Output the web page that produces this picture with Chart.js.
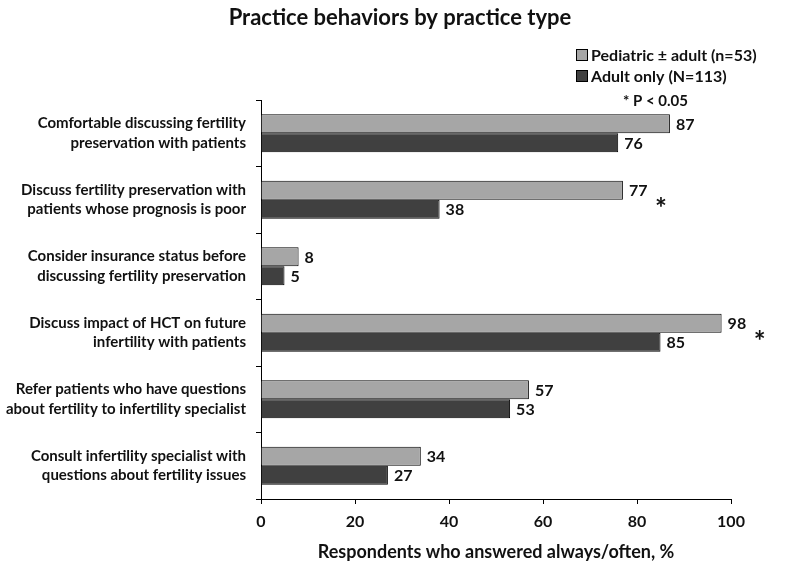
<!DOCTYPE html>
<html>
<head>
<meta charset="utf-8">
<script src="https://cdn.jsdelivr.net/npm/chart.js@4/dist/chart.umd.min.js"></script>
<style>
  html, body { margin: 0; padding: 0; background: #fff; }
  #wrap { width: 800px; height: 567px; }
</style>
</head>
<body>
<div id="wrap"><canvas id="myChart"></canvas></div>
<script>
var categories = [
  ['Comfortable discussing fertility', 'preservation with patients'],
  ['Discuss fertility preservation with', 'patients whose prognosis is poor'],
  ['Consider insurance status before', 'discussing fertility preservation'],
  ['Discuss impact of HCT on future', 'infertility with patients'],
  ['Refer patients who have questions', 'about fertility to infertility specialist'],
  ['Consult infertility specialist with', 'questions about fertility issues']
];
var pediatric = [87, 77, 8, 98, 57, 34];
var adultOnly = [76, 38, 5, 85, 53, 27];
var significant = [false, true, false, true, false, false];
var xTicks = [0, 20, 40, 60, 80, 100];
var seriesNames = ['Pediatric \u00b1 adult (n=53)', 'Adult only (N=113)'];
var seriesColors = ['#a6a6a6', '#404040'];
var chartTitle = 'Practice behaviors by practice type';

var FONT = 'Lato, "Open Sans", sans-serif';

var extras = {
  id: 'extras',
  afterDatasetsDraw: function (chart) {
    var ctx = chart.ctx;
    ctx.save();
    ctx.fillStyle = '#111';
    ctx.textBaseline = 'middle';
    // title, centred on the page
    ctx.textAlign = 'center';
    ctx.font = 'bold 22px ' + FONT;
    ctx.fillText(chartTitle, 400, 18);
    // value labels
    ctx.textAlign = 'left';
    ctx.font = 'bold 16px ' + FONT;
    chart.data.datasets.forEach(function (ds, di) {
      chart.getDatasetMeta(di).data.forEach(function (bar, i) {
        ctx.fillText(String(ds.data[i]), bar.x + 6, bar.y + 1);
      });
    });
    // significance asterisks
    var xs = chart.scales.x, ys = chart.scales.y;
    ctx.font = 'bold 28px ' + FONT;
    ctx.textAlign = 'center';
    significant.forEach(function (s, i) {
      if (!s) return;
      var m = Math.max(pediatric[i], adultOnly[i]);
      ctx.fillText('*', xs.getPixelForValue(m) + 38, ys.getPixelForValue(i) + 9);
    });
    // legend
    ctx.textAlign = 'left';
    ctx.font = 'bold 16px ' + FONT;
    seriesNames.forEach(function (name, i) {
      var y = 55 + i * 21;
      ctx.fillStyle = seriesColors[i];
      ctx.fillRect(576, y - 6, 12, 12);
      ctx.strokeStyle = '#000';
      ctx.lineWidth = 1;
      ctx.strokeRect(576.5, y - 5.5, 11, 11);
      ctx.fillStyle = '#111';
      ctx.fillText(name, 591, y + 1);
    });
    ctx.font = 'bold 15px ' + FONT;
    ctx.fillText('* P < 0.05', 623, 101);
    ctx.restore();
  }
};

var ctx = document.getElementById('myChart').getContext('2d');
var myChart = new Chart(ctx, {
  type: 'bar',
  data: {
    labels: categories,
    datasets: [{
      label: seriesNames[0],
      data: pediatric,
      backgroundColor: seriesColors[0],
      borderColor: '#000',
      borderWidth: 1,
      categoryPercentage: 0.57,
      barPercentage: 1
    }, {
      label: seriesNames[1],
      data: adultOnly,
      backgroundColor: seriesColors[1],
      borderColor: '#000',
      borderWidth: 1,
      categoryPercentage: 0.57,
      barPercentage: 1
    }]
  },
  options: {
    indexAxis: 'y',
    responsive: true,
    maintainAspectRatio: false,
    animation: false,
    layout: { padding: { left: 0, right: 69, top: 100, bottom: 0 } },
    plugins: {
      legend: { display: false },
      tooltip: { enabled: false },
      title: { display: false }
    },
    scales: {
      x: {
        min: 0,
        max: 100,
        afterBuildTicks: function (scale) {
          scale.ticks = xTicks.map(function (v) { return { value: v }; });
        },
        afterFit: function (scale) { scale.height = 68; },
        border: { color: '#000', width: 1 },
        grid: { drawOnChartArea: false, color: '#000', tickLength: 5 },
        ticks: { color: '#111', padding: 8, font: { family: FONT, size: 16, weight: 'bold' } },
        title: {
          display: true,
          text: 'Respondents who answered always/often, %',
          color: '#111',
          font: { family: FONT, size: 18, weight: 'bold' },
          padding: { top: 8 }
        }
      },
      y: {
        afterFit: function (scale) { scale.width = 261; },
        border: { color: '#000', width: 1 },
        grid: { drawOnChartArea: false, color: '#000', tickLength: 5, offset: true },
        ticks: { color: '#111', padding: 10, font: { family: FONT, size: 15, weight: 'bold', lineHeight: 1.3 } }
      }
    }
  },
  plugins: [extras]
});
</script>
</body>
</html>
